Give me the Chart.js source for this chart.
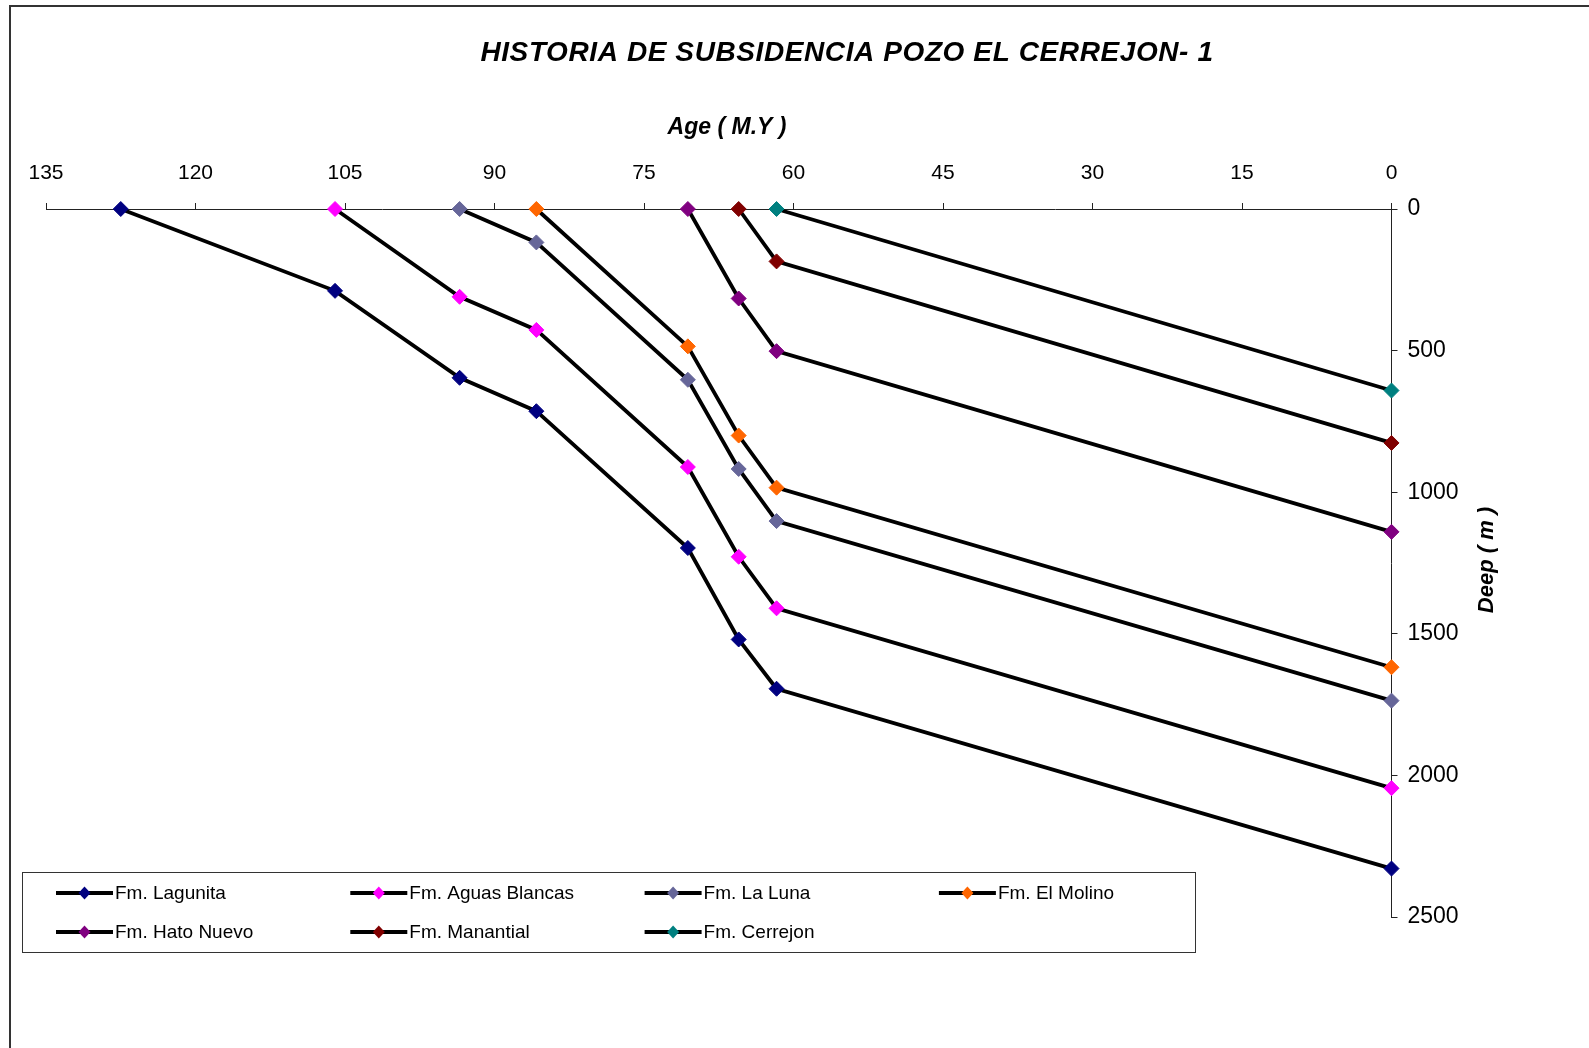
<!DOCTYPE html>
<html>
<head>
<meta charset="utf-8">
<title>Historia de subsidencia</title>
<script src="https://cdn.jsdelivr.net/npm/chart.js@4.4.0/dist/chart.umd.min.js"></script>
<style>
  html, body { margin: 0; padding: 0; background: #fff; }
  canvas { display: block; }
</style>
</head>
<body>
<canvas id="chart" width="1589" height="1048"></canvas>
<script>
// Age (M.Y) and depth (m) of each formation's burial path
const lagunitaAge   = [127.5, 106, 93.5, 85.8, 70.6, 65.5, 61.7, 0];
const lagunitaDepth = [0, 289, 596, 714, 1197, 1520, 1694, 2329];
const aguasAge      = [106, 93.5, 85.8, 70.6, 65.5, 61.7, 0];
const aguasDepth    = [0, 310, 427, 911, 1228, 1410, 2045];
const lunaAge       = [93.5, 85.8, 70.6, 65.5, 61.7, 0];
const lunaDepth     = [0, 118, 603, 918, 1102, 1736];
const molinoAge     = [85.8, 70.6, 65.5, 61.7, 0];
const molinoDepth   = [0, 485, 800, 984, 1618];
const hatoAge       = [70.6, 65.5, 61.7, 0];
const hatoDepth     = [0, 316, 502, 1140];
const manantialAge  = [65.5, 61.7, 0];
const manantialDepth = [0, 185, 826];
const cerrejonAge   = [61.7, 0];
const cerrejonDepth = [0, 641];

const seriesNames  = ['Fm. Lagunita', 'Fm. Aguas Blancas', 'Fm. La Luna', 'Fm. El Molino',
                      'Fm. Hato Nuevo', 'Fm. Manantial', 'Fm. Cerrejon'];
const seriesColors = ['#000080', '#FF00FF', '#666699', '#FF6600', '#800080', '#800000', '#008080'];
const seriesAges   = [lagunitaAge, aguasAge, lunaAge, molinoAge, hatoAge, manantialAge, cerrejonAge];
const seriesDepths = [lagunitaDepth, aguasDepth, lunaDepth, molinoDepth, hatoDepth, manantialDepth, cerrejonDepth];

const ageTicks = [0, 15, 30, 45, 60, 75, 90, 105, 120, 135];
const depthTicks = [0, 500, 1000, 1500, 2000, 2500];

const FONT = '"Liberation Sans", Arial, sans-serif';

const datasets = seriesNames.map((name, i) => ({
  label: name,
  data: seriesAges[i].map((a, j) => ({ x: a, y: seriesDepths[i][j] })),
  showLine: true,
  clip: false,
  borderColor: '#000',
  borderWidth: 3.8,
  tension: 0,
  pointStyle: 'rectRot',
  pointRadius: 7.5,
  pointBackgroundColor: seriesColors[i],
  pointBorderColor: seriesColors[i],
  pointBorderWidth: 1
}));

// frame, titles and the boxed legend
const decorPlugin = {
  id: 'decor',
  afterDraw(chart) {
    const ctx = chart.ctx;
    ctx.save();

    ctx.strokeStyle = '#333';
    ctx.lineWidth = 2;
    ctx.beginPath();
    ctx.moveTo(10, 1048);
    ctx.lineTo(10, 6);
    ctx.lineTo(1589, 6);
    ctx.stroke();

    ctx.fillStyle = '#000';
    ctx.textAlign = 'center';
    ctx.textBaseline = 'middle';
    ctx.font = 'italic bold 28px ' + FONT;
    ctx.letterSpacing = '0.6px';
    ctx.fillText('HISTORIA DE SUBSIDENCIA POZO EL CERREJON- 1', 847, 53);
    ctx.letterSpacing = '0px';

    ctx.font = 'italic bold 23px ' + FONT;
    ctx.fillText('Age ( M.Y )', 727, 128);

    ctx.save();
    ctx.translate(1487, 560);
    ctx.rotate(-Math.PI / 2);
    ctx.font = 'italic bold 22px ' + FONT;
    ctx.fillText('Deep ( m )', 0, 0);
    ctx.restore();

    // legend
    ctx.fillStyle = '#fff';
    ctx.fillRect(22, 872, 1173, 80);
    ctx.strokeStyle = '#333';
    ctx.lineWidth = 1;
    ctx.strokeRect(22.5, 872.5, 1173, 80);

    ctx.font = '19px ' + FONT;
    ctx.textAlign = 'left';
    chart.data.datasets.forEach((ds, i) => {
      const col = i % 4;
      const row = Math.floor(i / 4);
      const x = 56 + col * 294.3;
      const y = 893 + row * 39;
      ctx.strokeStyle = '#000';
      ctx.lineWidth = 3.8;
      ctx.beginPath();
      ctx.moveTo(x, y);
      ctx.lineTo(x + 57, y);
      ctx.stroke();
      ctx.fillStyle = ds.pointBackgroundColor;
      ctx.beginPath();
      ctx.moveTo(x + 28.5, y - 6.5);
      ctx.lineTo(x + 34.5, y);
      ctx.lineTo(x + 28.5, y + 6.5);
      ctx.lineTo(x + 22.5, y);
      ctx.closePath();
      ctx.fill();
      ctx.fillStyle = '#000';
      ctx.fillText(ds.label, x + 59, y + 1);
    });

    ctx.restore();
  }
};

const ctx = document.getElementById('chart').getContext('2d');
const chart = new Chart(ctx, {
  type: 'scatter',
  data: { datasets: datasets },
  options: {
    responsive: false,
    animation: false,
    layout: { padding: { left: 46, top: 0, right: 0, bottom: 131 } },
    plugins: {
      legend: { display: false },
      title: { display: false },
      tooltip: { enabled: false }
    },
    scales: {
      x: {
        type: 'linear',
        position: 'top',
        reverse: true,
        min: 0,
        max: 135,
        afterBuildTicks: scale => { scale.ticks = ageTicks.map(v => ({ value: v })); },
        afterFit: scale => { scale.height = 209; },
        ticks: {
          color: '#000',
          padding: 17,
          maxRotation: 0,
          font: { family: FONT, size: 21 }
        },
        grid: { drawOnChartArea: false, drawTicks: true, tickLength: 6, color: '#222' },
        border: { display: true, color: '#222', width: 1 }
      },
      y: {
        type: 'linear',
        position: 'right',
        reverse: true,
        min: 0,
        max: 2500,
        afterBuildTicks: scale => { scale.ticks = depthTicks.map(v => ({ value: v })); },
        afterFit: scale => { scale.width = 1589 - 1391.5; },
        ticks: {
          color: '#000',
          padding: 10,
          font: { family: FONT, size: 23 },
          callback: v => String(v)
        },
        grid: { drawOnChartArea: false, drawTicks: true, tickLength: 6, color: '#222' },
        border: { display: true, color: '#222', width: 1 }
      }
    }
  },
  plugins: [decorPlugin]
});
</script>
</body>
</html>
